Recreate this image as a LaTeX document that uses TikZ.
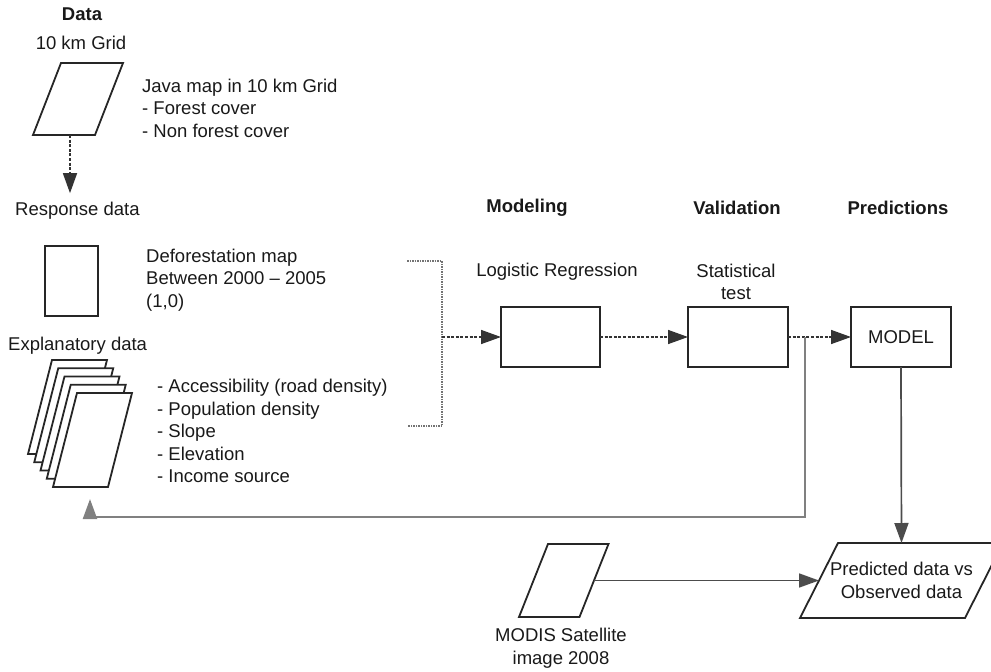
\documentclass[tikz,border=0pt]{standalone}
\usepackage{fontspec}
\setmainfont{Liberation Sans}
\usetikzlibrary{arrows.meta,calc}
\newcommand\paral[3][]{%
  \draw[pline,#1] ([xshift=#3pt/2]#2.north west) -- ([xshift=#3pt/2]#2.north east)
    -- ([xshift=-#3pt/2]#2.south east) -- ([xshift=-#3pt/2]#2.south west) -- cycle;}
\begin{document}
\begin{tikzpicture}[x=1pt,y=-1pt,
  txt/.style={inner sep=0pt, font=\fontsize{18.5}{22.5}\selectfont, text=black!90},
  hd/.style={inner sep=0pt, font=\fontsize{18.5}{22.5}\selectfont\bfseries, text=black!90},
  body/.style={inner sep=0pt, outer sep=0pt},
  box/.style={draw=black!85, line width=1.8pt, inner sep=0pt, outer sep=0pt},
  pline/.style={draw=black!85, line width=1.8pt, line join=miter},
  arrtip/.style={-{Triangle[length=20pt,width=14pt]}},
  dasharr/.style={arrtip, draw=black!80, line width=1.5pt, dash pattern=on 3pt off 1.6pt},
  solarr/.style={arrtip, draw=black!70, line width=1.7pt},
  fbarr/.style={arrtip, draw=black!50, line width=2.2pt},
  brk/.style={draw=black!55, line width=1.5pt, dash pattern=on 1.5pt off 1pt}
]
\useasboundingbox (0,0) rectangle (991,672);

% ---- Data column ----
\node[hd] (data) at (82,14) {Data};
\node[txt] (gridlbl) at (81,43) {10 km Grid};
\node[body, minimum width=62pt, minimum height=72pt] (grid) at (78,99) {};
\paral{grid}{28}
\node[txt, anchor=west, align=left] (java) at (142,108) {Java map in 10 km Grid\\- Forest cover\\- Non forest cover};
\node[txt, anchor=west] (resp) at (15,211) {Response data};
\draw[dasharr, shorten >=9pt] ([xshift=-8pt]grid.south) -- ([xshift=-8pt]grid.south |- resp.north);

\node[box, minimum width=53pt, minimum height=70pt] (dmap) at (71.5,281) {};
\node[txt, anchor=west, align=left] (dtext) at (146,280) {Deforestation map\\Between 2000 \textendash{} 2005\\(1,0)};

\node[txt, anchor=west] (expl) at (8,346) {Explanatory data};
\foreach \k in {4,3,2,1,0}{
  \node[body, minimum width=55pt, minimum height=94pt] (s\k) at ({92.5-\k*6.25},{440-\k*8.25}) {};
  \paral[fill=white]{s\k}{24}
}
\node[txt, anchor=west, align=left] (vars) at (157,431) {- Accessibility (road density)\\- Population density\\- Slope\\- Elevation\\- Income source};

% ---- bracket ----
\coordinate (bt) at (407,261);
\coordinate (btc) at (442,261);
\coordinate (bbc) at (442,426);
\coordinate (bb) at (407,426);
\coordinate (bm) at (442,337);
\draw[brk] (bt) -- (btc) -- (bbc) -- (bb);

% ---- headings ----
\node[hd] (hmod) at (527,208) {Modeling};
\node[hd] (hval) at (737,208) {Validation};
\node[hd] (hpre) at (898,208) {Predictions};

% ---- process boxes ----
\node[txt] (lrlbl) at (557,272) {Logistic Regression};
\node[box, minimum width=99pt, minimum height=60pt] (logit) at (550.5,337) {};
\node[txt, align=center, font=\fontsize{18.5}{21.5}\selectfont] (stlbl) at (736,282) {Statistical\\test};
\node[box, minimum width=100pt, minimum height=60pt] (valid) at (738,337) {};
\node[box, txt, draw=black!85, minimum width=100pt, minimum height=60pt] (model) at (901,337) {MODEL};

\draw[dasharr] (bm) -- (logit.west);
\draw[dasharr] (logit.east) -- (valid.west);
\draw[dasharr] (valid.east) -- (model.west);

% ---- feedback line ----
\coordinate (br) at (805,337);
\coordinate (fb) at (90,517);
\draw[fbarr, shorten >=12pt] (br) |- (fb) -- (fb |- s0.south);

% ---- bottom row ----
\node[body, minimum width=60.5pt, minimum height=73pt] (modis) at (563.75,580.5) {};
\paral{modis}{29}
\node[txt, align=center] (modislbl) at (561,648) {MODIS Satellite\\image 2008};
\node[body, txt, align=center, minimum width=165pt, minimum height=75pt] (pred) at (901.5,580.5) {Predicted data vs\\Observed data};
\paral{pred}{38}

\draw[solarr] (model.south) -- (pred.north);
\draw[solarr] (modis.east) -- (pred.west);
\end{tikzpicture}
\end{document}
